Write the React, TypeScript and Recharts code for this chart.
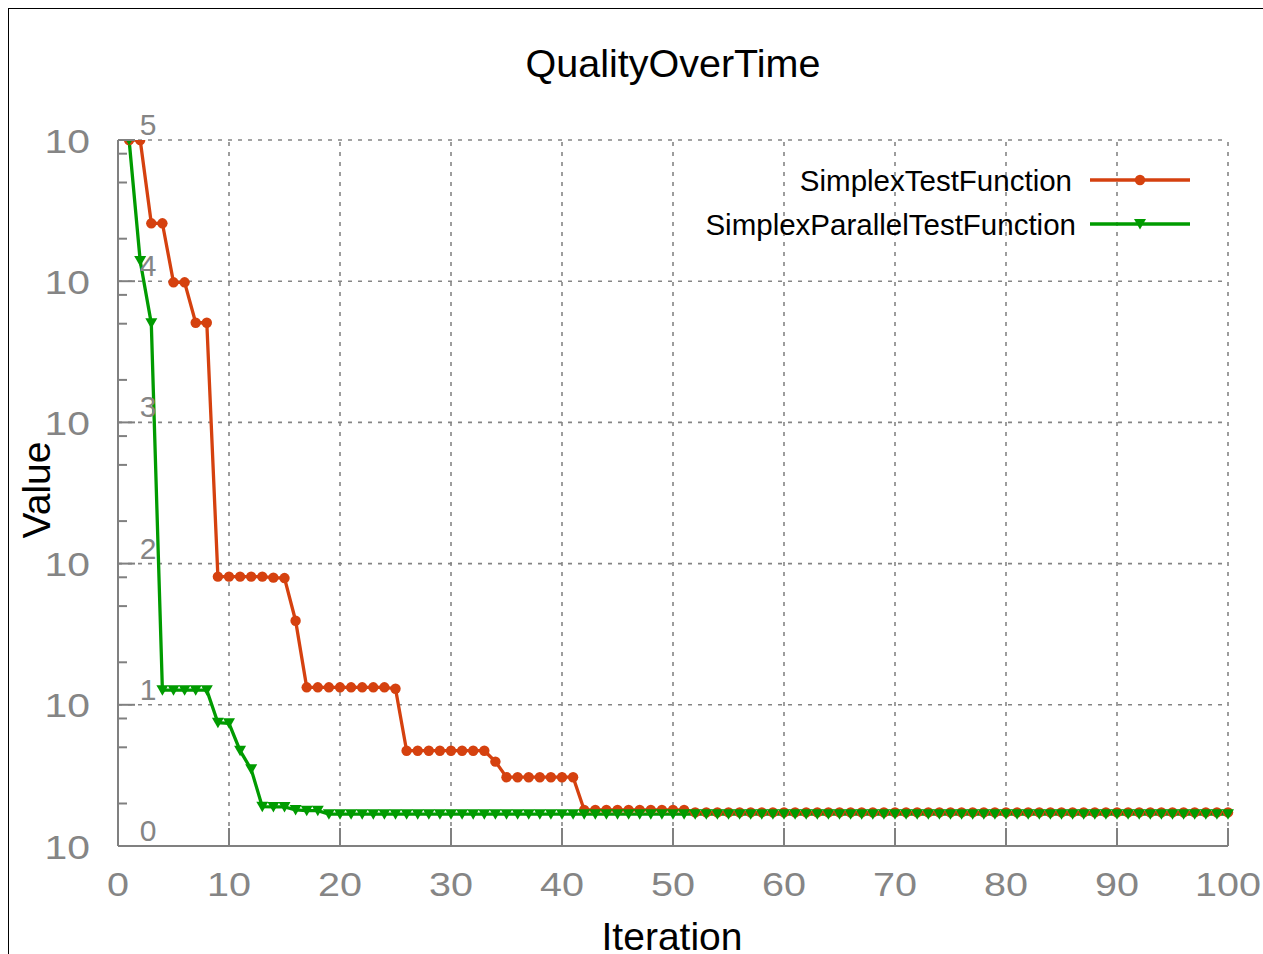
import React from 'react';
import { LineChart, Line, XAxis, YAxis, ReferenceLine, Legend } from 'recharts';

const iterations = [
  1, 2, 3, 4, 5, 6, 7, 8, 9, 10,
  11, 12, 13, 14, 15, 16, 17, 18, 19, 20,
  21, 22, 23, 24, 25, 26, 27, 28, 29, 30,
  31, 32, 33, 34, 35, 36, 37, 38, 39, 40,
  41, 42, 43, 44, 45, 46, 47, 48, 49, 50,
  51, 52, 53, 54, 55, 56, 57, 58, 59, 60,
  61, 62, 63, 64, 65, 66, 67, 68, 69, 70,
  71, 72, 73, 74, 75, 76, 77, 78, 79, 80,
  81, 82, 83, 84, 85, 86, 87, 88, 89, 90,
  91, 92, 93, 94, 95, 96, 97, 98, 99, 100,
];

const simplexValues = [
  100000, 100000, 25700, 25700, 9820, 9820, 5080, 5080, 80.8, 80.8,
  80.8, 80.8, 80.8, 79.5, 79.0, 39.4, 13.3, 13.3, 13.3, 13.3,
  13.3, 13.3, 13.3, 13.3, 13.0, 4.73, 4.73, 4.73, 4.73, 4.73,
  4.73, 4.73, 4.73, 3.96, 3.07, 3.07, 3.07, 3.07, 3.07, 3.07,
  3.07, 1.8, 1.8, 1.8, 1.8, 1.8, 1.8, 1.8, 1.8, 1.8,
  1.8, 1.73, 1.73, 1.73, 1.73, 1.73, 1.73, 1.73, 1.73, 1.73,
  1.73, 1.73, 1.73, 1.73, 1.73, 1.73, 1.73, 1.73, 1.73, 1.73,
  1.73, 1.73, 1.73, 1.73, 1.73, 1.73, 1.73, 1.73, 1.73, 1.73,
  1.73, 1.73, 1.73, 1.73, 1.73, 1.73, 1.73, 1.73, 1.73, 1.73,
  1.73, 1.73, 1.73, 1.73, 1.73, 1.73, 1.73, 1.73, 1.73, 1.73,
];

const parallelValues = [
  100000, 13900, 5030, 12.7, 12.7, 12.7, 12.7, 12.7, 7.47, 7.4,
  4.73, 3.49, 1.9, 1.89, 1.89, 1.8, 1.78, 1.78, 1.68, 1.68,
  1.68, 1.68, 1.68, 1.68, 1.68, 1.68, 1.68, 1.68, 1.68, 1.68,
  1.68, 1.68, 1.68, 1.68, 1.68, 1.68, 1.68, 1.68, 1.68, 1.68,
  1.68, 1.68, 1.68, 1.68, 1.68, 1.68, 1.68, 1.68, 1.68, 1.68,
  1.68, 1.68, 1.68, 1.68, 1.68, 1.68, 1.68, 1.68, 1.68, 1.68,
  1.68, 1.68, 1.68, 1.68, 1.68, 1.68, 1.68, 1.68, 1.68, 1.68,
  1.68, 1.68, 1.68, 1.68, 1.68, 1.68, 1.68, 1.68, 1.68, 1.68,
  1.68, 1.68, 1.68, 1.68, 1.68, 1.68, 1.68, 1.68, 1.68, 1.68,
  1.68, 1.68, 1.68, 1.68, 1.68, 1.68, 1.68, 1.68, 1.68, 1.68,
];

const xTicks = [0, 10, 20, 30, 40, 50, 60, 70, 80, 90, 100];
const xGridValues = [10, 20, 30, 40, 50, 60, 70, 80, 90, 100];
const yMajorTicks = [1, 10, 100, 1000, 10000, 100000];
const yExponentLabels = ['0', '1', '2', '3', '4', '5'];
const yMinorTicks = [2, 5, 8, 20, 50, 80, 200, 500, 800, 2000, 5000, 8000, 20000, 50000, 80000];
const yGridValues = [10, 100, 1000, 10000, 100000];

const seriesNames = ['SimplexTestFunction', 'SimplexParallelTestFunction'];
const RED = '#d5410f';
const GREEN = '#009b00';
const seriesColors = [RED, GREEN];
const GRAY = '#858585';
const AXIS_GRAY = '#808080';
const FONT = '"Liberation Sans", Arial, sans-serif';

const data = iterations.map((it, i) => ({
  iteration: it,
  simplex: simplexValues[i],
  parallel: parallelValues[i],
}));

const W = 1270;
const H = 950;
const PLOT_LEFT = 109;
const PLOT_TOP = 131;
const PLOT_RIGHT = 1219;
const PLOT_BOTTOM = 837;

const XTick = (props: any) => {
  const { x, payload } = props;
  return (
    <g>
      <line x1={x} x2={x} y1={PLOT_BOTTOM} y2={PLOT_BOTTOM - 18} stroke={AXIS_GRAY} strokeWidth={2} />
      <text
        transform={`translate(${x},${PLOT_BOTTOM + 50}) scale(1.18,1)`}
        textAnchor="middle"
        fontSize={33.5}
        fontFamily={FONT}
        fill={GRAY}
      >
        {payload.value}
      </text>
    </g>
  );
};

const YTick = (props: any) => {
  const { y, payload } = props;
  const idx = yMajorTicks.indexOf(payload.value);
  if (idx < 0) {
    return <line x1={PLOT_LEFT} x2={PLOT_LEFT + 9} y1={y} y2={y} stroke={AXIS_GRAY} strokeWidth={2} />;
  }
  return (
    <g>
      <line x1={PLOT_LEFT} x2={PLOT_LEFT + 17} y1={y} y2={y} stroke={AXIS_GRAY} strokeWidth={2} />
      <text
        transform={`translate(${81},${y + 12.5}) scale(1.22,1)`}
        textAnchor="end"
        fontSize={33.5}
        fontFamily={FONT}
        fill={GRAY}
      >
        10
      </text>
      <text x={139} y={y - 5} textAnchor="middle" fontSize={30} fontFamily={FONT} fill={GRAY}>
        {yExponentLabels[idx]}
      </text>
    </g>
  );
};

const RedDot = (props: any) => {
  const { cx, cy, index } = props;
  if (cx == null || cy == null) return <g key={index} />;
  return <circle key={index} cx={cx} cy={cy} r={5.2} fill={RED} />;
};

const triPath = (cx: number, cy: number) =>
  `M${cx - 6},${cy - 5} L${cx + 6},${cy - 5} L${cx},${cy + 5.5} Z`;

const GreenDot = (props: any) => {
  const { cx, cy, index } = props;
  if (cx == null || cy == null) return <g key={index} />;
  return <path key={index} d={triPath(cx, cy)} fill={GREEN} />;
};

const renderLegend = () => {
  return (
    <svg width={600} height={100} style={{ overflow: 'visible', display: 'block' }}>
      {seriesNames.map((name, i) => {
        const ly = i === 0 ? 26 : 70;
        const ty = i === 0 ? 37 : 81;
        const color = seriesColors[i];
        return (
          <g key={i}>
            <text x={i === 0 ? 443 : 447} y={ty} textAnchor="end" fontSize={29.5} fontFamily={FONT} fill="#000">
              {name}
            </text>
            <line x1={461} x2={561} y1={ly} y2={ly} stroke={color} strokeWidth={3.3} />
            {i === 0 ? (
              <circle cx={511} cy={ly} r={5.2} fill={color} />
            ) : (
              <path d={triPath(511, ly)} fill={color} />
            )}
          </g>
        );
      })}
    </svg>
  );
};

export default function App() {
  return (
    <div style={{ position: 'fixed', left: 0, top: 0, width: 1263, height: 954, overflow: 'hidden', background: '#fff' }}>
      <div
        style={{
          position: 'absolute',
          left: 8,
          top: 8,
          width: 1280,
          height: 960,
          border: '1.5px solid #000',
          background: '#fff',
        }}
      >
        <div style={{ position: 'absolute', left: 0, top: 0, width: W, height: H }}>
          <LineChart
            width={W}
            height={H}
            data={data}
            margin={{ top: PLOT_TOP, left: 0, right: W - PLOT_RIGHT, bottom: 0 }}
          >
            <XAxis
              dataKey="iteration"
              type="number"
              domain={[0, 100]}
              ticks={xTicks}
              interval={0}
              height={H - PLOT_BOTTOM}
              axisLine={{ stroke: AXIS_GRAY, strokeWidth: 2 }}
              tickLine={false}
              tick={<XTick />}
            />
            <YAxis
              type="number"
              scale="log"
              domain={[1, 100000]}
              allowDataOverflow
              ticks={[...yMajorTicks, ...yMinorTicks]}
              interval={0}
              width={PLOT_LEFT}
              axisLine={{ stroke: AXIS_GRAY, strokeWidth: 2 }}
              tickLine={false}
              tick={<YTick />}
            />
            {xGridValues.map((v) => (
              <ReferenceLine key={'gx' + v} x={v} stroke={GRAY} strokeWidth={1.6} strokeDasharray="4 6" />
            ))}
            {yGridValues.map((v) => (
              <ReferenceLine key={'gy' + v} y={v} stroke={GRAY} strokeWidth={1.6} strokeDasharray="4 6" />
            ))}
            <Legend
              layout="horizontal"
              verticalAlign="middle"
              align="center"
              content={renderLegend}
              wrapperStyle={{ position: 'absolute', left: 620, top: 145, width: 600, height: 100 }}
            />
            <Line
              name={seriesNames[0]}
              dataKey="simplex"
              type="linear"
              stroke={RED}
              strokeWidth={3.3}
              dot={<RedDot />}
              activeDot={false}
              isAnimationActive={false}
            />
            <Line
              name={seriesNames[1]}
              dataKey="parallel"
              type="linear"
              stroke={GREEN}
              strokeWidth={3.3}
              dot={<GreenDot />}
              activeDot={false}
              isAnimationActive={false}
            />
          </LineChart>
          <svg
            width={W}
            height={H}
            style={{ position: 'absolute', left: 0, top: 0, pointerEvents: 'none' }}
          >
            <text x={664} y={68} textAnchor="middle" fontSize={39.5} fontFamily={FONT} fill="#000">
              QualityOverTime
            </text>
            <text x={663} y={941} textAnchor="middle" fontSize={39} fontFamily={FONT} fill="#000">
              Iteration
            </text>
            <text
              transform={`translate(41,481) rotate(-90)`}
              textAnchor="middle"
              fontSize={39}
              fontFamily={FONT}
              fill="#000"
            >
              Value
            </text>
          </svg>
        </div>
      </div>
    </div>
  );
}
